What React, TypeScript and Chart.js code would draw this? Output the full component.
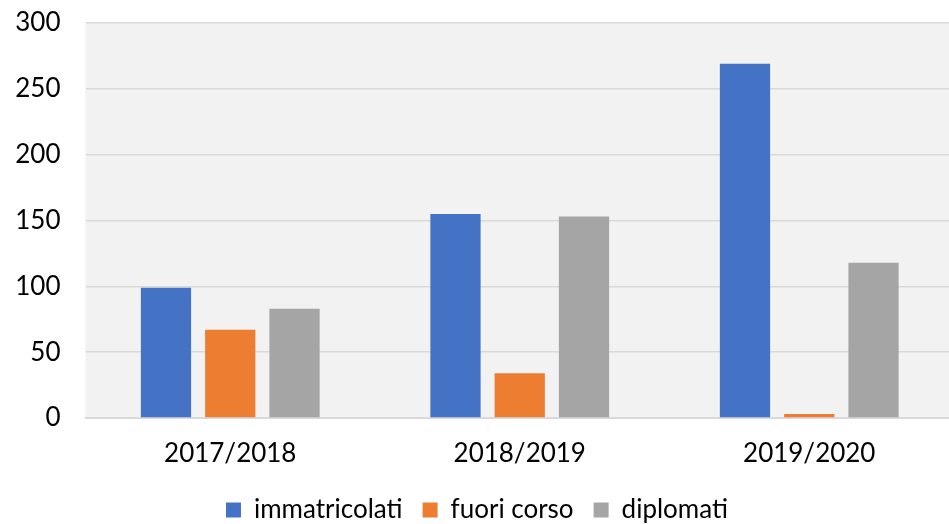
import React, { useEffect, useRef } from "react";
import { Chart, registerables } from "chart.js";

Chart.register(...registerables);

const categories = ["2017/2018", "2018/2019", "2019/2020"];
const immatricolati = [99, 155, 269];
const fuoriCorso = [67, 34, 3];
const diplomati = [83, 153, 118];
const yTicks = [0, 50, 100, 150, 200, 250, 300];

const FONT = "Lato, 'Open Sans', sans-serif";

const plotBg = {
  id: "plotBg",
  beforeDraw(chart: any) {
    const { ctx, chartArea } = chart;
    if (!chartArea) return;
    ctx.save();
    ctx.fillStyle = "#f2f2f2";
    ctx.fillRect(chartArea.left, chartArea.top, chartArea.right - chartArea.left, chartArea.bottom - chartArea.top);
    ctx.restore();
  },
};

export default function App() {
  const ref = useRef<HTMLCanvasElement | null>(null);
  useEffect(() => {
    document.body.style.margin = "0";
    document.body.style.overflow = "hidden";
    const chart = new Chart(ref.current as HTMLCanvasElement, {
      type: "bar",
      data: {
        labels: categories,
        datasets: [
          { label: "immatricolati", data: immatricolati, backgroundColor: "#4472c4" },
          { label: "fuori corso", data: fuoriCorso, backgroundColor: "#ed7d31" },
          { label: "diplomati", data: diplomati, backgroundColor: "#a5a5a5" },
        ],
      },
      options: {
        animation: false,
        responsive: false,
        maintainAspectRatio: false,
        layout: { padding: { top: 23, right: 0, left: 0, bottom: -9 } },
        datasets: { bar: { categoryPercentage: 0.666, barPercentage: 0.782 } },
        plugins: {
          tooltip: { enabled: false },
          legend: {
            position: "bottom",
            labels: {
              font: { family: FONT, size: 26 },
              color: "#000",
              boxWidth: 15,
              boxHeight: 15,
              padding: 20,
            },
          },
        },
        scales: {
          x: {
            grid: { display: false, drawTicks: false },
            border: { display: true, color: "#d9d9d9", width: 2 },
            ticks: { font: { family: FONT, size: 26 }, color: "#000", padding: 20 },
            afterFit(scale: any) {
              scale.height = 59;
            },
          },
          y: {
            min: 0,
            max: 300,
            afterBuildTicks(scale: any) {
              scale.ticks = yTicks.map((v) => ({ value: v }));
            },
            grid: { color: "#d9d9d9", lineWidth: 1.5, drawTicks: true, tickLength: 25, tickColor: "rgba(0,0,0,0)" },
            border: { display: false },
            ticks: { font: { family: FONT, size: 26 }, color: "#000", padding: 0 },
            afterFit(scale: any) {
              scale.width = 85.5;
            },
          },
        },
      },
      plugins: [plotBg],
    } as any);
    return () => chart.destroy();
  }, []);
  return (
    <div style={{ position: "fixed", left: 0, top: 0, width: 949, height: 524, overflow: "hidden" }}>
      <canvas ref={ref} width={954} height={524} style={{ width: 954, height: 524, display: "block" }} />
    </div>
  );
}
